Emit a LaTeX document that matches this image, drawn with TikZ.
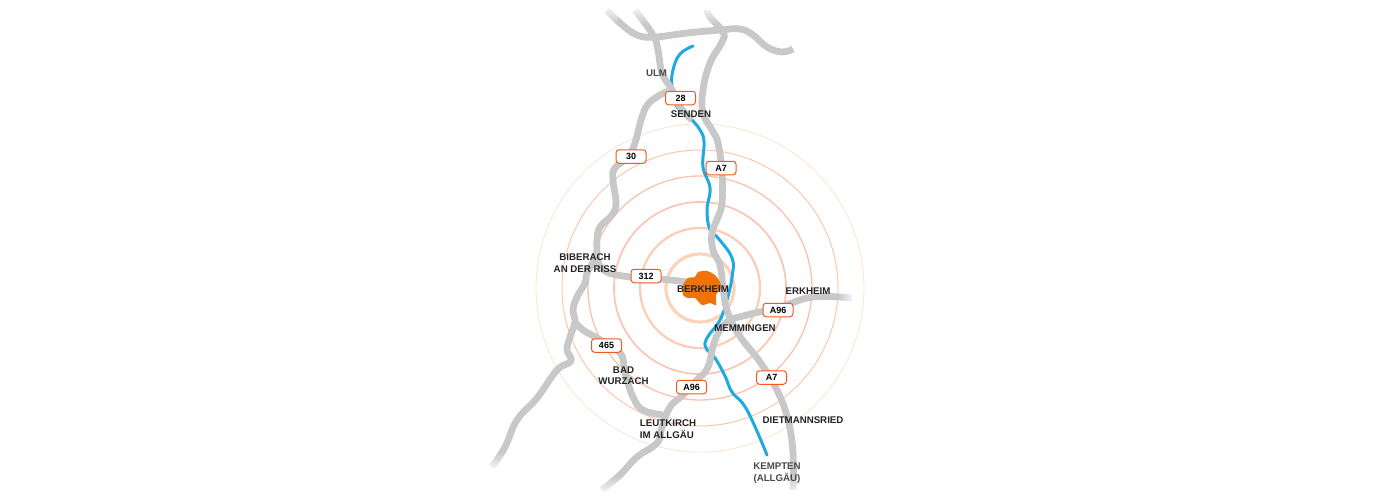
\documentclass[tikz,border=0pt]{standalone}
\usepackage{fontspec}
\setmainfont{Liberation Sans}
\usetikzlibrary{fadings}
\definecolor{roadgray}{HTML}{C8C8C8}
\definecolor{riverblue}{HTML}{1FA9E1}
\definecolor{cityorange}{HTML}{EF7308}
\definecolor{signred}{HTML}{F2591E}
\definecolor{labeldark}{HTML}{222222}
\definecolor{labelgray}{HTML}{4A4A4A}
\tikzset{
    road/.style={draw=roadgray, line width=6.8pt, line join=round},
    river/.style={draw=riverblue, line width=3pt, line cap=round},
    sign/.style={draw=signred, fill=white, line width=1pt, rounded corners=3pt,
        minimum width=30pt, minimum height=13.5pt, inner sep=0pt,
        font=\bfseries\fontsize{9}{9}\selectfont},
    place/.style={font=\bfseries\fontsize{9.7}{11.5}\selectfont, text=labeldark, align=center, inner sep=0pt},
    farplace/.style={place, text=labelgray},
    endfade/.style={fill=white, draw=none}
}
\begin{document}
\begin{tikzpicture}[x=1pt,y=-1pt]
\useasboundingbox (0,0) rectangle (1400,503);
% Rings around the town
\foreach \r/\w/\c in {164/0.8/FEE2CC,138/1/FAC9AC,112/1.3/F9C2AD,86/1.7/FAC4B2,60/2.2/FBCDB6,34/3.2/FCD3B8}
{
    \definecolor{ringcol}{HTML}{\c}
    \draw[ringcol, line width=\w pt] (700,288) circle[radius=\r];
}
% River
\draw[river] plot[smooth, tension=0.7] coordinates {(693,46) (680,54) (673,70) (672,87) (677,107) (690,118) (700,130) (704,142) (703,167) (710,188) (707,210) (710,230) (718,238) (732,258) (732,277) (727,300) (720,320) (707,338) (706,348) (715,358) (725,376) (732,392) (747,410) (767,455)};
% Roads
\draw[road] plot[smooth, tension=0.7] coordinates {(607,10) (620,23) (637,35) (655,37) (687,33) (720,30) (740,29) (753,35) (767,47) (782,52) (793,49)};
\draw[road] plot[smooth, tension=0.7] coordinates {(635,10) (653,35) (658,50) (662,73) (672,90) (680,107) (692,120)};
\draw[road] plot[smooth, tension=0.7] coordinates {(707,10) (710,17) (723,32) (722,42) (710,63) (703,90) (703,113) (712,130) (718,143) (722,173) (722,203) (718,217) (712,233) (713,250) (720,265) (723,287) (727,310) (739,335) (760,362) (777,390) (788,420) (793,453) (793,490)};
\draw[road] plot[smooth, tension=0.7] coordinates {(668,91) (650,102) (642,117) (635,143) (628,157) (615,168) (613,180) (616,203) (612,215) (600,227) (597,240) (596,256) (587,273) (585,283) (577,297) (573,310) (575,322) (570,337) (567,350) (571,361) (557,370) (537,398) (517,420) (505,447) (492,467)};
\draw[road] plot[smooth, tension=0.7] coordinates {(575,322) (583,330) (597,338) (620,353) (625,373) (633,397) (643,410) (663,415)};
\draw[road] plot[smooth, tension=0.7] coordinates {(852,298) (813,297) (780,307) (747,315) (727,322) (715,340) (708,367) (697,380) (683,395) (670,407) (662,427) (657,443) (637,457) (620,475) (602,490)};
\draw[road] plot[smooth, tension=0.7] coordinates {(596,256) (605,271) (630,277) (650,278) (697,283)};
% Fading road ends
\foreach \x/\y in {594/4,624/4,697/4}
    \fill[endfade, path fading=south] (\x,\y) rectangle (\x+24,\y+20);
\fill[endfade, path fading=west] (838,288) rectangle (856,308);
\fill[endfade, path fading=north] (482,452) rectangle (508,472);
\fill[endfade, path fading=north] (592,476) rectangle (620,496);
\fill[endfade, path fading=north] (784,476) rectangle (802,496);
% Town
\fill[cityorange] plot[smooth cycle, tension=0.4] coordinates {(688,278) (695,277) (698,272) (707,271) (715,275) (720,282) (721,288) (716,295) (716,305) (710,303) (702,305) (695,298) (688,298) (683,295) (683,285)};
% Road signs
\node[sign] (sign28) at (680.5,98) {28};
\node[sign] (sign30) at (631,156.5) {30};
\node[sign] (signA7n) at (721,168) {A7};
\node[sign] (sign312) at (646,276) {312};
\node[sign] (signA96e) at (778,310) {A96};
\node[sign] (sign465) at (606.5,345.5) {465};
\node[sign] (signA96s) at (691.5,387) {A96};
\node[sign] (signA7s) at (771.5,377.5) {A7};
% Places
\node[farplace] (ulm) at (656.5,73.5) {ULM};
\node[place] (senden) at (691,114) {SENDEN};
\node[place] (biberach) at (585,263) {BIBERACH\\AN DER RISS};
\node[place] (berkheim) at (703,289.5) {BERKHEIM};
\node[place] (erkheim) at (808,291.5) {ERKHEIM};
\node[place] (memmingen) at (745,328.5) {MEMMINGEN};
\node[place] (wurzach) at (623.5,375.5) {BAD\\WURZACH};
\node[place, align=left] (leutkirch) at (668,429) {LEUTKIRCH\\IM ALLG\"AU};
\node[place] (dietmannsried) at (803,420.5) {DIETMANNSRIED};
\node[farplace] (kempten) at (777,473) {KEMPTEN\\(ALLG\"AU)};
\end{tikzpicture}
\end{document}
